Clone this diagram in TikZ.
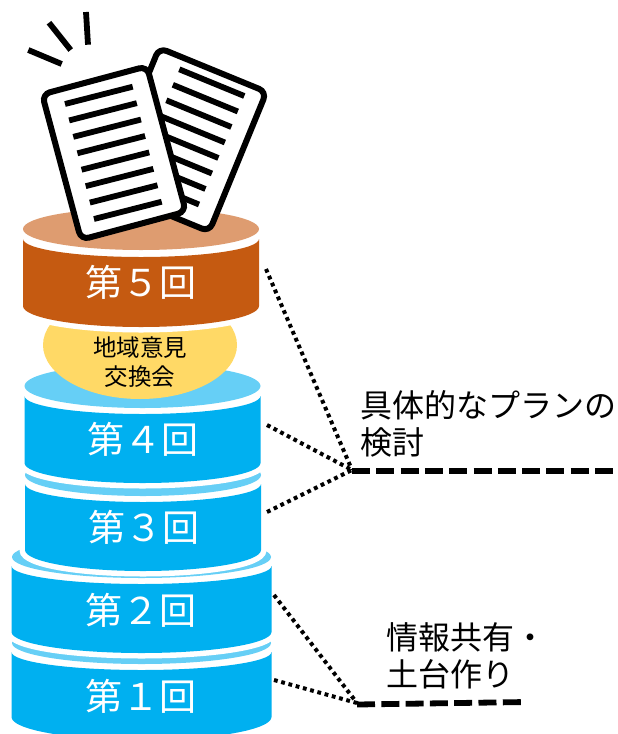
\documentclass[tikz,border=0pt]{standalone}
\usepackage{fontspec}
\setmainfont{Noto Sans CJK JP}
\definecolor{orangeD}{HTML}{C55A11}
\definecolor{orangeL}{HTML}{DE9C70}
\definecolor{blueD}{HTML}{00B0F0}
\definecolor{blueL}{HTML}{66CFF6}
\definecolor{yellowL}{HTML}{FFD966}
\newcommand{\cylbody}[7]{%
  \path[draw=white,line width=11pt,fill=#1,line join=miter]
    (#2,#4) arc[start angle=180,end angle=0,x radius={(#3-#2)/2},y radius=#5]
    -- (#3,#6) arc[start angle=0,end angle=180,x radius={(#3-#2)/2},y radius=#7] -- cycle;
  \fill[#1]
    (#2,#4) arc[start angle=180,end angle=0,x radius={(#3-#2)/2},y radius=#5]
    -- (#3,#6) arc[start angle=0,end angle=180,x radius={(#3-#2)/2},y radius=#7] -- cycle;
}
\tikzset{
  roundlabel/.style={inner sep=0pt,text=white,font=\fontsize{37}{37}\selectfont},
  sidelabel/.style={inner sep=0pt,anchor=west,align=left,text=black,font=\fontsize{32}{37}\selectfont},
  dotline/.style={line width=4pt,dash pattern=on 3.8pt off 3.7pt},
  dashline/.style={line width=5.8pt,dash pattern=on 18pt off 6.3pt},
  paper/.style={draw=black,fill=white,line width=6pt,rounded corners=8pt},
  inkline/.style={draw=black,line width=5.8pt},
}
\begin{document}
\begin{tikzpicture}[x=1pt,y=-1pt]
\useasboundingbox (0,0) rectangle (618,734);
% stack, bottom to top
\cylbody{blueD}{11.5}{271.5}{652}{18}{717}{23}
\fill[blueL] (141.5,643) ellipse[x radius=129.5,y radius=21];
\cylbody{blueD}{11.5}{271.5}{566}{18}{632}{21}
\fill[blueL] (141.5,557) ellipse[x radius=129.5,y radius=21];
\cylbody{blueD}{25}{261}{484}{18}{550}{21}
\fill[blueL] (143,475) ellipse[x radius=118,y radius=21];
\cylbody{blueD}{24.5}{260.5}{396}{18}{463}{20}
\fill[blueL] (142.5,386) ellipse[x radius=118,y radius=22];
\fill[yellowL] (140,345) ellipse[x radius=97,y radius=54];
\cylbody{orangeD}{23}{259}{239}{18}{306}{21}
\fill[orangeL] (141,229) ellipse[x radius=118,y radius=21];
% labels
\node[roundlabel] (r5) at (141,282) {第５回};
\node[roundlabel] (r4) at (142.5,439) {第４回};
\node[roundlabel] (r3) at (143.5,527) {第３回};
\node[roundlabel] (r2) at (141,610) {第２回};
\node[roundlabel] (r1) at (141,696) {第１回};
\node[inner sep=0pt,align=center,font=\fontsize{23.5}{29}\selectfont] (opinion) at (140,362.5) {地域意見\\交換会};
\node[sidelabel] (planlabel) at (360,423.5) {具体的なプランの\\検討};
\node[sidelabel] (baselabel) at (386,656) {情報共有・\\土台作り};
% connectors
\coordinate (a5) at (266,269);
\coordinate (a4) at (267,425);
\coordinate (a3) at (267,512);
\coordinate (a2) at (274,595);
\coordinate (a1) at (274,680);
\coordinate (j1) at (352,470);
\coordinate (j1e) at (614,471);
\coordinate (j2) at (357,703);
\coordinate (j2s) at (357,704.5);
\coordinate (j2e) at (527,702);
\draw[dotline] (a5) -- (j1);
\draw[dotline] (a4) -- (j1);
\draw[dotline] (a3) -- (j1);
\draw[dotline] (a2) -- (j2);
\draw[dotline] (a1) -- (j2);
\draw[dashline] (j1 |- j1e) -- (j1e);
\draw[dashline] (j2s) -- (j2e);
% back sheet
\draw[paper,rotate around={-22.3:(184.2,139.75)}] (126.2,64.25) rectangle (242.2,215.25);
\foreach \i in {0,...,7}{
  \draw[inkline] ({179.3-6.47*\i},{69.3+15.5*\i}) -- ({244.3-6.47*\i},{96+15.5*\i});
}
% front sheet
\draw[paper,rotate around={15:(114,153)}] (59.75,77.75) rectangle (168.25,228.25);
\foreach \i in {0,...,7}{
  \draw[inkline] ({65+4.14*\i},{104+16.43*\i}) -- ({132.7+4.14*\i},{86.7+16.43*\i});
}
% rays
\draw[inkline] (28.3,50) -- (61.7,64);
\draw[inkline] (49,22.7) -- (70.7,50);
\draw[inkline] (86,12) -- (88,44.7);
\end{tikzpicture}
\end{document}
